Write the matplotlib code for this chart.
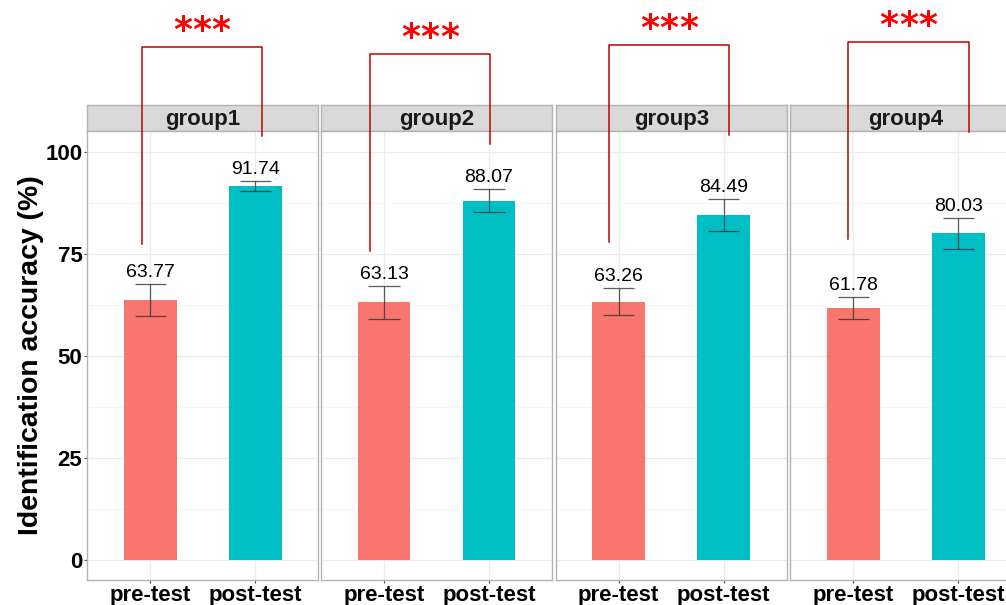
import numpy as np
import matplotlib
matplotlib.use("Agg")
import matplotlib.pyplot as plt

plt.rcParams['font.family'] = ['Liberation Sans', 'DejaVu Sans']

groups = ['group1', 'group2', 'group3', 'group4']
conditions = ['pre-test', 'post-test']
pre_mean = [63.77, 63.13, 63.26, 61.78]
post_mean = [91.74, 88.07, 84.49, 80.03]
pre_se = [3.96, 3.97, 3.30, 2.77]
post_se = [1.23, 2.83, 3.92, 3.72]
colors = ['#F8766D', '#00BFC4']

# significance brackets: x of the two legs, y of the bar, y where each leg ends
br_x1 = [0.918, 0.864, 0.908, 0.952]
br_x2 = [2.061, 2.010, 2.053, 2.102]
br_top = [125.7, 124.0, 126.2, 127.0]
br_end1 = [77.3, 75.7, 77.8, 78.6]
br_end2 = [103.8, 102.0, 104.0, 104.8]
n_stars = [3, 3, 3, 3]

W, H = 1006, 605
fig = plt.figure(figsize=(W / 100, H / 100), dpi=100)

panel_left = [87.3, 321.0, 555.7, 790.3]
panel_w = 231.0
top_px, bot_px, strip_top = 131.0, 580.0, 105.3

border = '#B3B3B3'
for i, g in enumerate(groups):
    x0 = panel_left[i] / W
    # strip
    sax = fig.add_axes([x0, (H - top_px) / H, panel_w / W, (top_px - strip_top) / H], zorder=0)
    sax.set_facecolor('#D9D9D9')
    sax.set_xticks([]); sax.set_yticks([])
    for s in sax.spines.values():
        s.set_color(border); s.set_linewidth(1.0)
    sax.text(0.5, 0.45, g, transform=sax.transAxes, ha='center', va='center',
             fontsize=16, fontweight='bold', color='#1A1A1A')

    ax = fig.add_axes([x0, (H - bot_px) / H, panel_w / W, (bot_px - top_px) / H], zorder=1)
    ax.set_xlim(0.4, 2.6)
    ax.set_ylim(-4.9, 105.1)
    for s in ax.spines.values():
        s.set_color(border); s.set_linewidth(1.0)
    ax.set_yticks([0, 25, 50, 75, 100])
    ax.set_yticks([12.5, 37.5, 62.5, 87.5], minor=True)
    ax.set_xticks([1, 2])
    ax.set_xticklabels(conditions, fontsize=16, fontweight='bold', color='black')
    ax.grid(True, which='major', color='#EBEBEB', lw=0.9, zorder=0)
    ax.grid(True, which='minor', axis='y', color='#F5F5F5', lw=0.6, zorder=0)
    ax.set_axisbelow(True)
    ax.tick_params(axis='both', which='major', length=2.5, color='#555555', width=0.8, pad=1)
    ax.tick_params(axis='y', which='minor', length=0)
    if i == 0:
        ax.set_yticklabels(['0', '25', '50', '75', '100'], fontsize=16, fontweight='bold')
        ax.set_ylabel('Identification accuracy (%)', fontsize=20.4, fontweight='bold', labelpad=1)
    else:
        ax.tick_params(axis='y', which='both', left=False, labelleft=False)

    means = [pre_mean[i], post_mean[i]]
    ses = [pre_se[i], post_se[i]]
    ax.bar([1, 2], means, width=0.5, color=colors, zorder=2)
    for x, m, e in zip([1, 2], means, ses):
        ax.vlines(x, m - e, m + e, color='#333333', lw=0.9, alpha=0.8, zorder=3)
        ax.hlines([m - e, m + e], x - 0.15, x + 0.15, color='#333333', lw=0.9, alpha=0.8, zorder=3)
        ax.annotate(f'{m:.2f}', (x, m + e), xytext=(0, 5), textcoords='offset points',
                    ha='center', va='baseline', fontsize=14, color='black', zorder=4)

    # bracket drawn outside the panel
    ax.plot([br_x1[i], br_x1[i], br_x2[i], br_x2[i]],
            [br_end1[i], br_top[i], br_top[i], br_end2[i]],
            color='#C00000', lw=1.1, clip_on=False, zorder=5)
    mid = (br_x1[i] + br_x2[i]) / 2
    for k in range(n_stars[i]):
        dx = (k - (n_stars[i] - 1) / 2) * 14
        ax.annotate('*', (mid, br_top[i]), xytext=(dx, 4),
                    textcoords='offset points', ha='center', va='baseline',
                    fontsize=26, fontweight='bold', color='red', family='DejaVu Sans',
                    annotation_clip=False)

fig.savefig('out.png', dpi=100)
